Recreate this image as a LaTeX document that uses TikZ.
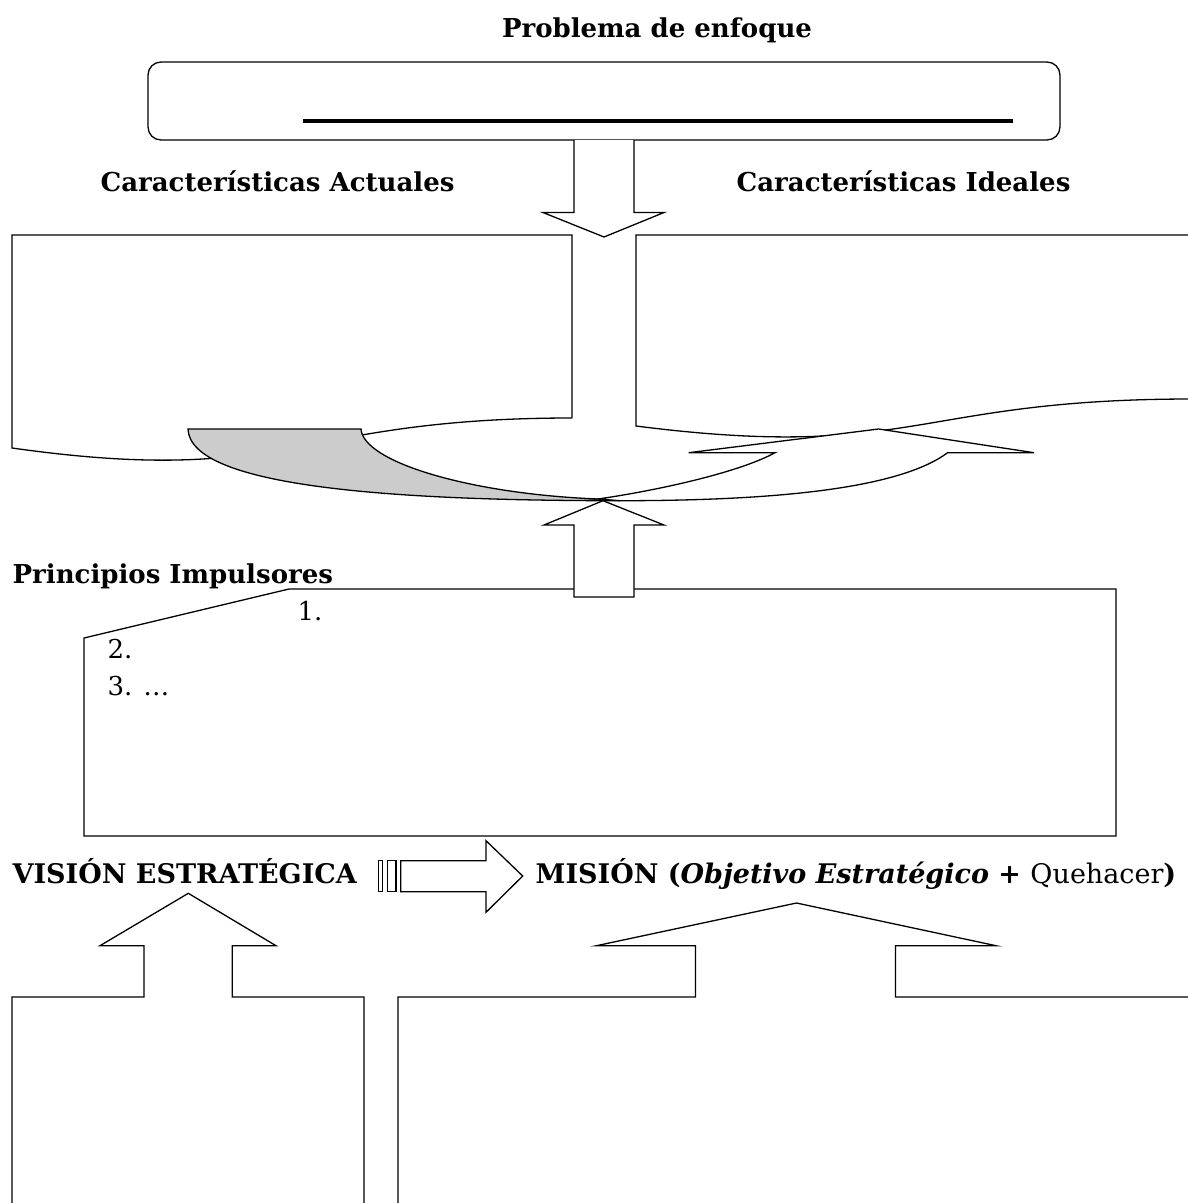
\documentclass[tikz,border=0pt]{standalone}
\usepackage{fontspec}
\setmainfont{DejaVu Serif}
\begin{document}
\begin{tikzpicture}[x=1pt,y=-1pt,line width=1.3pt,line join=miter,
  shp/.style={draw=black,fill=white},
  lbl/.style={inner sep=0pt,font=\fontsize{26}{30}\selectfont\bfseries},
  big/.style={inner sep=0pt,font=\fontsize{27}{31}\selectfont\bfseries},
  num/.style={inner sep=0pt,anchor=base west,font=\fontsize{26}{30}\selectfont}]
\useasboundingbox (0,0) rectangle (1188,1203);
\clip (0,0) rectangle (1188,1203);
% title
\node[lbl,anchor=base] (title) at (657,37) {Problema de enfoque};
% rounded box
\draw[shp,rounded corners=13pt] (148,62) rectangle (1060,140);
\draw[line width=3.2pt] (303,121) -- (1013,121);
% down arrow
\draw[shp] (574,140) -- (574,212.5) -- (543,212.5) -- (604,237) -- (664,212.5) -- (634,212.5) -- (634,140);
% headings
\node[lbl,anchor=base west] (actual) at (100,191) {Características Actuales};
\node[lbl,anchor=base west] (ideal) at (736,191) {Características Ideales};
% document boxes
\draw[shp] (572,418) -- (572,235) -- (12,235) -- (12,448)
  .. controls (292,487.5) and (292,418) .. (572,418);
\draw[shp] (1192,399) -- (1192,235) -- (636,235) -- (636,426)
  .. controls (914,461.5) and (914,399) .. (1192,399);
% curved up arrow: back (gray) part
\draw[draw=black,fill=black!20] (188,429) -- (361,429)
  .. controls (363,462) and (470,494) .. (598,499) -- (620,500.7)
  .. controls (400,500.7) and (190,488) .. (188,429) -- cycle;
% front part
\draw[shp] (598,499) .. controls (660,490) and (740,472) .. (775,452.7)
  -- (688.6,452.7) -- (878.6,429) -- (1034,452.7) -- (947.6,452.7)
  .. controls (900,488) and (780,500.7) .. (620,500.7) -- cycle;
% principios
\node[lbl,anchor=base west] (principios) at (12,583) {Principios Impulsores};
\draw[shp] (84,638) -- (289,589) -- (1116,589) -- (1116,836) -- (84,836) -- cycle;
\node[num] (n1) at (297,620) {1.};
\node[num] (n2) at (107,658) {2.};
\node[num] (n3) at (107,695) {3. …};
% up arrow into curved arrow
\draw[shp] (574,597) -- (574,525) -- (544,525) -- (603,500.7) -- (664,525) -- (634,525) -- (634,597) -- cycle;
% vision / mision row
\node[big,anchor=base west] (vision) at (12,883) {VISIÓN ESTRATÉGICA};
\draw[shp] (378.3,860.7) rectangle (382.7,891.7);
\draw[shp] (387.3,860.7) rectangle (396,891.7);
\draw[shp] (400.7,860.7) -- (486,860.7) -- (486,840.7) -- (522.7,876) -- (486,912.3) -- (486,891.7) -- (400.7,891.7) -- cycle;
\node[big,anchor=base west] (mision) at (535,883) {MISIÓN (\textit{Objetivo Estratégico} + \textmd{Quehacer})};
% bottom callouts
\draw[shp] (12,1210) -- (12,997) -- (144,997) -- (144,945.7) -- (100,945.7) -- (188.3,893.3)
  -- (276,945.7) -- (232.3,945.7) -- (232.3,997) -- (364,997) -- (364,1210);
\draw[shp] (398,1210) -- (398,997) -- (695.5,997) -- (695.5,945.7) -- (596.5,945.7) -- (796.5,903)
  -- (996,945.7) -- (895.5,945.7) -- (895.5,997) -- (1195,997) -- (1195,1210);
\end{tikzpicture}
\end{document}
